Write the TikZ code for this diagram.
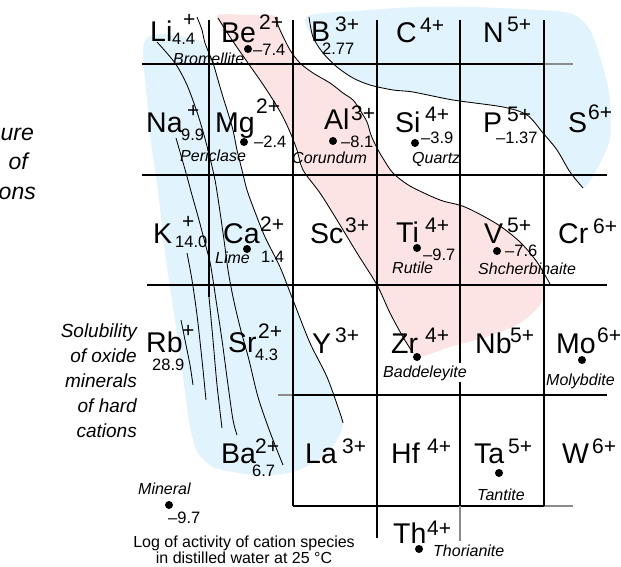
\documentclass[tikz,border=0pt]{standalone}
\usepackage{fontspec}
\setmainfont{Liberation Sans}
\definecolor{bluefill}{RGB}{225,243,252}
\definecolor{pinkfill}{RGB}{253,228,228}
\tikzset{
  sym/.style={font=\fontsize{28.5}{31}\selectfont, inner sep=0pt, anchor=base west},
  chg/.style={font=\fontsize{21}{23}\selectfont, inner sep=0pt, anchor=base west},
  val/.style={font=\fontsize{16.5}{18}\selectfont, inner sep=0pt, anchor=base west},
  mnr/.style={font=\itshape\fontsize{16}{18}\selectfont, inner sep=0pt, anchor=base west},
  bigtxt/.style={font=\itshape\fontsize{19}{21}\selectfont, inner sep=0pt, anchor=base east},
  uptxt/.style={font=\itshape\fontsize{23}{25}\selectfont, inner sep=0pt, anchor=base east},
  captxt/.style={font=\fontsize{16}{18}\selectfont, inner sep=0pt, anchor=base},
  mdot/.style={circle, fill=black, inner sep=0pt, minimum size=8pt},
  gridln/.style={line width=1.2pt, black},
  gridgray/.style={line width=1.2pt, black!45},
  cline/.style={line width=0.85pt, black},
}
\begin{document}
\begin{tikzpicture}[x=1pt,y=-1pt]
\useasboundingbox (0,0) rectangle (621,567);
\fill[white] (0,0) rectangle (621,567);

% ---- coloured regions
\fill[bluefill] plot[smooth cycle, tension=0.5] coordinates {(143,50) (147,38) (160,34) (180,36) (198,40) (205,45) (213,63) (218,80) (223,97) (228,113) (233,130) (237,150) (242,170) (247,190) (255,212) (265,237) (280,267) (293,300) (310,343) (327,377) (340,413) (343,425) (338,438) (330,450) (313,463) (293,472) (273,475) (253,475) (233,472) (213,467) (198,453) (190,427) (183,377) (175,320) (165,253) (158,190) (152,150) (148,110) (145,80)};
\fill[bluefill] plot[smooth cycle, tension=0.5] coordinates {(308,16) (313,37) (323,53) (337,67) (353,78) (370,85) (393,90) (413,92) (453,100) (503,107) (527,115) (543,133) (557,150) (570,172) (583,188) (593,176) (603,157) (610,138) (610,100) (603,67) (590,30) (572,14) (540,10) (470,7) (420,7) (370,10)};
\fill[pinkfill] plot[smooth cycle, tension=0.5] coordinates {(217,16) (232,40) (248,63) (262,83) (275,103) (283,117) (290,132) (297,150) (303,170) (320,193) (337,220) (357,253) (377,285) (390,313) (403,337) (413,353) (420,357) (453,346) (487,337) (520,323) (540,305) (545,288) (542,271) (537,262) (520,242) (497,224) (465,207) (440,200) (410,186) (393,173) (384,160) (377,148) (371,135) (367,122) (360,110) (353,100) (343,93) (330,83) (313,73) (300,63) (290,50) (280,30) (275,16) (246,15)};

% ---- grid
\coordinate (h1a) at (142,64);  \coordinate (h1b) at (544,64);  \coordinate (h1c) at (573,64);
\coordinate (h2a) at (142,175); \coordinate (h2b) at (607,175);
\coordinate (h3a) at (147,285); \coordinate (h3b) at (607,285);
\coordinate (h4a) at (278,395); \coordinate (h4m) at (293,395); \coordinate (h4b) at (607,395);
\coordinate (h5a) at (293,506); \coordinate (h5b) at (544,506); \coordinate (h5c) at (573,506);
\coordinate (v1a) at (209,20);  \coordinate (v1b) at (209,297);
\coordinate (v2a) at (293,20);  \coordinate (v2b) at (293,506);
\coordinate (v3a) at (377,20);  \coordinate (v3b) at (377,538);
\coordinate (v4a) at (460,20);  \coordinate (v4b) at (460,506); \coordinate (v4c) at (460,541);
\coordinate (v5a) at (544,20);  \coordinate (v5b) at (544,506);
\draw[gridln] (h1a) -- (h1b);
\draw[gridgray] (h1b) -- (h1c);
\draw[gridln] (h2a) -- (h2b);
\draw[gridln] (h3a) -- (h3b);
\draw[gridgray] (h4a) -- (h4m);
\draw[gridln] (h4m) -- (h4b);
\draw[gridln] (h5a) -- (h5b);
\draw[gridgray] (h5b) -- (h5c);
\draw[gridln] (v1a) -- (v1b);
\draw[gridln] (v2a) -- (v2b);
\draw[gridln] (v3a) -- (v3b);
\draw[gridln] (v4a) -- (v4b);
\draw[gridgray] (v4b) -- (v4c);
\draw[gridln] (v5a) -- (v5b);

% ---- contour lines
\draw[cline] plot[smooth, tension=0.5] coordinates {(309,17) (313,37) (323,53) (337,67) (353,78) (370,85) (393,90) (413,92) (453,100) (503,107) (527,115) (543,133) (557,150) (570,172) (583,188)};
\draw[cline] plot[smooth, tension=0.5] coordinates {(218,18) (232,40) (248,63) (262,83) (275,103) (283,117) (290,132) (297,150) (303,170) (320,193) (337,220) (357,253) (377,285) (390,313) (403,337) (413,353)};
\draw[cline] plot[smooth, tension=0.5] coordinates {(275,17) (280,30) (290,50) (300,63) (313,73) (330,83) (343,93) (353,100) (360,110) (367,122) (371,135) (377,148) (384,160) (393,173) (410,186) (440,200) (465,207) (497,224) (520,242) (537,262) (550,284)};
\draw[cline] plot[smooth, tension=0.5] coordinates {(197,17) (202,30) (205,43) (213,63) (218,80) (223,97) (228,113) (233,130) (237,150) (242,170) (247,190) (255,212) (265,237) (280,267) (293,300) (310,343) (327,377) (340,413) (343,423)};
\draw[cline] plot[smooth, tension=0.5] coordinates {(157,42) (175,63) (187,85) (197,112) (204,135) (210,158) (215,180) (219,205) (224,240) (228,270) (233,297) (240,327) (249,360) (258,397) (270,432) (283,465)};
\draw[cline] plot[smooth, tension=0.5] coordinates {(176,138) (186,173) (192,195) (199,220) (205,243) (210,262) (213,280) (216,300) (222,340) (228,385) (233,420) (237,435)};
\draw[cline] plot[smooth, tension=0.5] coordinates {(187,253) (192,280) (197,315) (202,360) (206,400)};
\draw[cline] plot[smooth, tension=0.5] coordinates {(181,320) (186,345) (190,365) (193,385)};
\draw[cline] plot[smooth, tension=0.5] coordinates {(209,297) (213,340) (217,385) (222,428)};

% ---- dots
\node[mdot] (dBe) at (248,49) {};
\node[mdot] (dMg) at (244,142) {};
\node[mdot] (dAl) at (333,141) {};
\node[mdot] (dSi) at (415,143) {};
\node[mdot] (dCa) at (247,249) {};
\node[mdot] (dTi) at (417,248) {};
\node[mdot] (dV) at (497,251) {};
\node[mdot] (dZr) at (417,357) {};
\node[mdot] (dMo) at (582,360) {};
\node[mdot] (dTa) at (499,473) {};
\node[mdot] (dTh) at (419,549) {};
\node[mdot] (dLeg) at (169,505) {};

% ---- element symbols
\node[sym] (Li) at (150,42) {Li};
\node[sym] (Be) at (221,43) {Be};
\node[sym] (B) at (311,42) {B};
\node[sym] (C) at (396,43) {C};
\node[sym] (N) at (483,43) {N};
\node[sym] (Na) at (146,132) {Na};
\node[sym] (Mg) at (215,132) {Mg};
\node[sym] (Al) at (324,130) {Al};
\node[sym] (Si) at (395,133) {Si};
\node[sym] (P) at (483,132) {P};
\node[sym] (S) at (568,132) {S};
\node[sym] (K) at (153,243) {K};
\node[sym] (Ca) at (223,243) {Ca};
\node[sym] (Sc) at (310,243) {Sc};
\node[sym] (Ti) at (396,242) {Ti};
\node[sym] (V) at (484,243) {V};
\node[sym] (Cr) at (558,243) {Cr};
\node[sym] (Rb) at (146,352) {Rb};
\node[sym] (Sr) at (228,352) {Sr};
\node[sym] (Y) at (312,353) {Y};
\node[sym] (Zr) at (391,353) {Zr};
\node[sym] (Nb) at (475,353) {Nb};
\node[sym] (Mo) at (556,353) {Mo};
\node[sym] (Ba) at (221,463) {Ba};
\node[sym] (La) at (305,463) {La};
\node[sym] (Hf) at (391,463) {Hf};
\node[sym] (Ta) at (474,463) {Ta};
\node[sym] (W) at (562,463) {W};
\node[sym] (Th) at (393,543) {Th};

% ---- charges
\node[chg] (cLi) at (183,27) {+};
\node[chg] (cBe) at (259,30) {2+};
\node[chg] (cB) at (335,32) {3+};
\node[chg] (cC) at (420,33) {4+};
\node[chg] (cN) at (507,32) {5+};
\node[chg] (cNa) at (187,118) {+};
\node[chg] (cMg) at (256,114) {2+};
\node[chg] (cAl) at (351,121) {3+};
\node[chg] (cSi) at (425,122) {4+};
\node[chg] (cP) at (507,122) {5+};
\node[chg] (cS) at (588,120) {6+};
\node[chg] (cK) at (182,228) {+};
\node[chg] (cCa) at (260,231) {2+};
\node[chg] (cSc) at (345,232) {3+};
\node[chg] (cTi) at (425,232) {4+};
\node[chg] (cV) at (507,232) {5+};
\node[chg] (cCr) at (593,233) {6+};
\node[chg] (cRb) at (182,337) {+};
\node[chg] (cSr) at (258,338) {2+};
\node[chg] (cY) at (335,342) {3+};
\node[chg] (cZr) at (425,342) {4+};
\node[chg] (cNb) at (510,342) {5+};
\node[chg] (cMo) at (597,342) {6+};
\node[chg] (cBa) at (255,453) {2+};
\node[chg] (cLa) at (342,453) {3+};
\node[chg] (cHf) at (427,453) {4+};
\node[chg] (cTa) at (508,453) {5+};
\node[chg] (cW) at (592,453) {6+};
\node[chg] (cTh) at (427,535) {4+};

% ---- values
\node[val] (vLi) at (172,45) {4.4};
\node[val] (vBe) at (253,56) {–7.4};
\node[val] (vB) at (322,55) {2.77};
\node[val] (vNa) at (181,140) {9.9};
\node[val] (vMg) at (254,148) {–2.4};
\node[val] (vAl) at (341,147) {–8.1};
\node[val] (vSi) at (421,143) {–3.9};
\node[val] (vP) at (496,143) {–1.37};
\node[val] (vK) at (175,247) {14.0};
\node[val] (vCa) at (261,262) {1.4};
\node[val] (vTi) at (423,260) {–9.7};
\node[val] (vV) at (505,256) {–7.6};
\node[val] (vRb) at (152,370) {28.9};
\node[val] (vSr) at (255,360) {4.3};
\node[val] (vBa) at (252,476) {6.7};
\node[val] (vLeg) at (168,523) {–9.7};

% ---- minerals
\node[mnr] (mBe) at (173,65) {Bromellite};
\node[mnr] (mMg) at (180,161) {Periclase};
\node[mnr] (mAl) at (292,164) {Corundum};
\node[mnr] (mSi) at (412,164) {Quartz};
\node[mnr] (mCa) at (215,263) {Lime};
\node[mnr] (mTi) at (392,273) {Rutile};
\node[mnr] (mV) at (478,274) {Shcherbinaite};
\node[mnr, fill=white, inner ysep=2pt, inner xsep=1pt] (mZr) at (382,377) {Baddeleyite};
\node[mnr] (mMo) at (546,385) {Molybdite};
\node[mnr] (mTa) at (477,500) {Tantite};
\node[mnr] (mTh) at (433,556) {Thorianite};
\node[mnr] (mLeg) at (138,494) {Mineral};

% ---- captions
\node[captxt] (cap1) at (244,547) {Log of activity of cation species};
\node[captxt] (cap2) at (244,563) {in distilled water at 25 °C};

\node[bigtxt] (t1) at (137,337) {Solubility};
\node[bigtxt] (t2) at (137,362) {of oxide};
\node[bigtxt] (t3) at (137,387) {minerals};
\node[bigtxt] (t4) at (137,412) {of hard};
\node[bigtxt] (t5) at (137,437) {cations};

\node[uptxt] (u1) at (34,140) {ure};
\node[uptxt] (u2) at (28,169) {of};
\node[uptxt] (u3) at (36,199) {ons};
\end{tikzpicture}
\end{document}
